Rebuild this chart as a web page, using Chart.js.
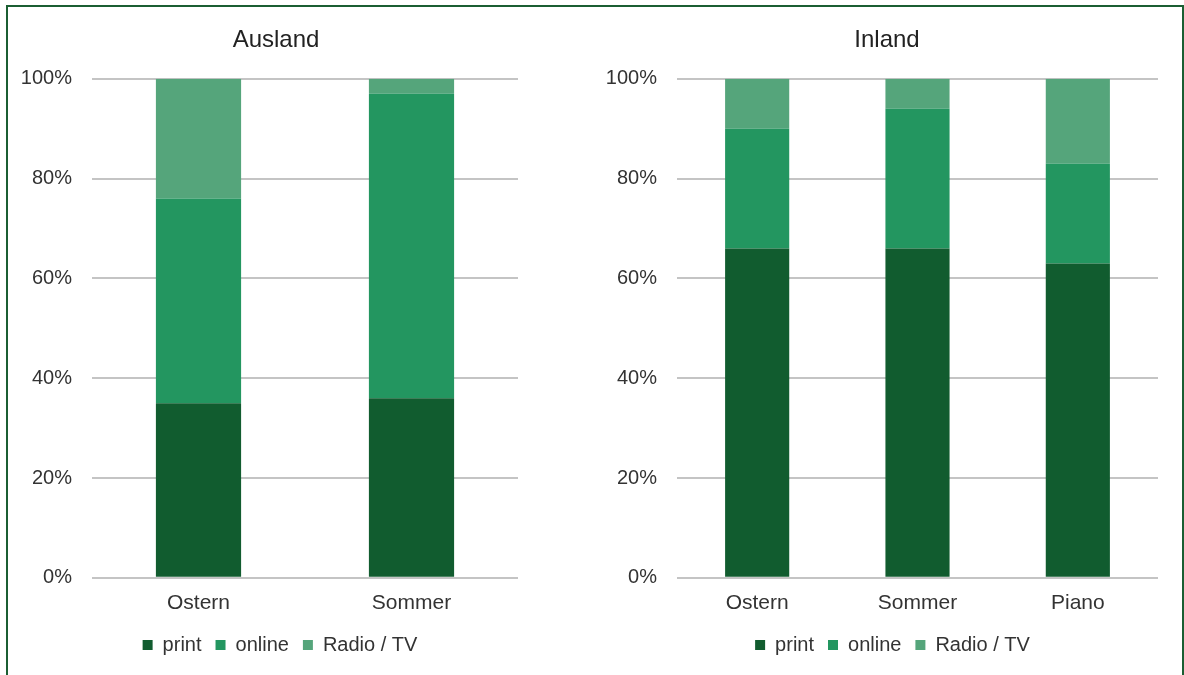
<!DOCTYPE html>
<html>
<head>
<meta charset="utf-8">
<script src="https://cdn.jsdelivr.net/npm/chart.js@4/dist/chart.umd.min.js"></script>
<style>
  body { margin: 0; background: #fff; width: 1184px; height: 675px; overflow: hidden; position: relative; }
  #frame { position: absolute; left: 6px; top: 5px; width: 1174px; height: 700px; border: 2px solid #1b5e32; }
  .box { position: absolute; top: 0; height: 675px; }
  #boxA { left: 2px; width: 588px; }
  #boxB { left: 590px; width: 590px; }
</style>
</head>
<body>
<div id="frame"></div>
<div class="box" id="boxA"><canvas id="chartA"></canvas></div>
<div class="box" id="boxB"><canvas id="chartB"></canvas></div>
<script>
// data
var seriesNames = ['print', 'online', 'Radio / TV'];
var colors = ['#115c2f', '#239660', '#55a57b'];

var auslandLabels = ['Ostern', 'Sommer'];
var auslandPrint = [35, 36];
var auslandOnline = [41, 61];
var auslandRadio = [24, 3];

var inlandLabels = ['Ostern', 'Sommer', 'Piano'];
var inlandPrint = [66, 66, 63];
var inlandOnline = [24, 28, 20];
var inlandRadio = [10, 6, 17];

var yTicks = ['0%', '20%', '40%', '60%', '80%', '100%'];

Chart.defaults.font.family = '"Liberation Sans", Arial, sans-serif';
Chart.defaults.color = '#333';

function makeChart(id, title, labels, series, pad, yWidth, titleShift, legendShift) {
  var ds = series.map(function (vals, i) {
    return {
      label: seriesNames[i],
      data: vals,
      backgroundColor: colors[i],
      borderWidth: 0,
      categoryPercentage: 1,
      barPercentage: 0.4
    };
  });
  return new Chart(document.getElementById(id), {
    type: 'bar',
    data: { labels: labels, datasets: ds },
    plugins: [{
      // title and legend sit centred over the plot, not over the whole canvas
      id: 'shiftBlocks',
      afterLayout: function (chart) {
        chart.titleBlock.left += titleShift;
        chart.legend.left += legendShift;
      }
    }],
    options: {
      responsive: true,
      maintainAspectRatio: false,
      animation: false,
      layout: { padding: pad },
      plugins: {
        title: {
          display: true,
          text: title,
          font: { size: 24, weight: 'normal' },
          color: '#222',
          padding: { top: 0, bottom: 24 }
        },
        legend: {
          position: 'bottom',
          labels: {
            boxWidth: 10,
            boxHeight: 10,
            padding: 14,
            font: { size: 20 },
            color: '#333'
          }
        },
        tooltip: { enabled: false }
      },
      scales: {
        x: {
          stacked: true,
          grid: { display: false, drawTicks: false },
          border: { display: false },
          ticks: { font: { size: 21 }, color: '#333', padding: 13 },
          // pull the legend up closer to the category labels
          afterFit: function (scale) { scale.height -= 8; }
        },
        y: {
          stacked: true,
          min: 0,
          max: 100,
          border: { display: false },
          grid: { color: '#c4c4c4', lineWidth: 2, drawTicks: false },
          ticks: {
            stepSize: 20,
            padding: 20,
            font: { size: 20 },
            color: '#333',
            callback: function (v) { return yTicks[v / 20]; }
          },
          afterFit: function (scale) { scale.width = yWidth; }
        }
      }
    }
  });
}

makeChart('chartA', 'Ausland', auslandLabels, [auslandPrint, auslandOnline, auslandRadio],
  { left: 0, right: 72, top: 26, bottom: 10 }, 90, 32, 40);
makeChart('chartB', 'Inland', inlandLabels, [inlandPrint, inlandOnline, inlandRadio],
  { left: 0, right: 22, top: 26, bottom: 10 }, 87, 26, 37);
</script>
</body>
</html>
